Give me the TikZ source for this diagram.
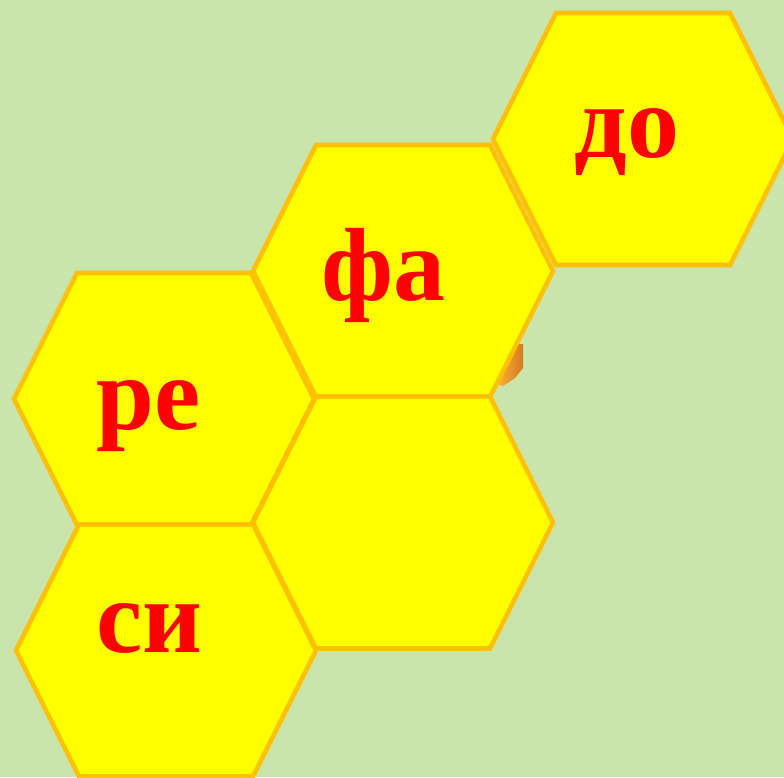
\documentclass[tikz,border=0pt]{standalone}
\usepackage{fontspec}
\setmainfont{Liberation Serif}
\usepackage{tikz}
\definecolor{meadow}{RGB}{201,229,172}
\definecolor{honey}{RGB}{255,255,0}
\definecolor{waxrim}{RGB}{255,192,0}
\definecolor{notered}{RGB}{255,0,0}
\definecolor{beelight}{RGB}{250,178,60}
\definecolor{beedark}{RGB}{212,122,32}
% one cell of the comb, centred at (#1,#2)
\newcommand{\combcell}[2]{%
  \draw[cell] (#1-87,#2-126) -- (#1+87,#2-126) -- (#1+150,#2) -- (#1+87,#2+126)
    -- (#1-87,#2+126) -- (#1-150,#2) -- cycle;}

\begin{document}
\begin{tikzpicture}[x=1pt, y=-1pt,
    cell/.style={fill=honey, draw=waxrim, line width=4.6pt},
    syllable/.style={anchor=base, text=notered, inner sep=0pt,
      font=\fontsize{104}{104}\selectfont\bfseries}]
  \fill[meadow] (0,0) rectangle (784,777);
  \useasboundingbox (0,0) rectangle (784,777);
  % the bit of something orange peeking out behind the comb
  \shade[left color=beelight, right color=beedark] (511,344) -- (523,344) -- (523,368)
    -- (515,378) -- (503,386) -- (497,384) -- cycle;
  \combcell{164}{399}
  \combcell{166}{650.5}
  \combcell{403}{271}
  \combcell{403}{522.5}
  \combcell{643}{139}
  \node[syllable] (do) at (627,157) {до};
  \node[syllable] (fa) at (383.5,300) {фа};
  \node[syllable] (re) at (148.5,429) {ре};
  \node[syllable] (si) at (149.5,652) {си};
\end{tikzpicture}
\end{document}
